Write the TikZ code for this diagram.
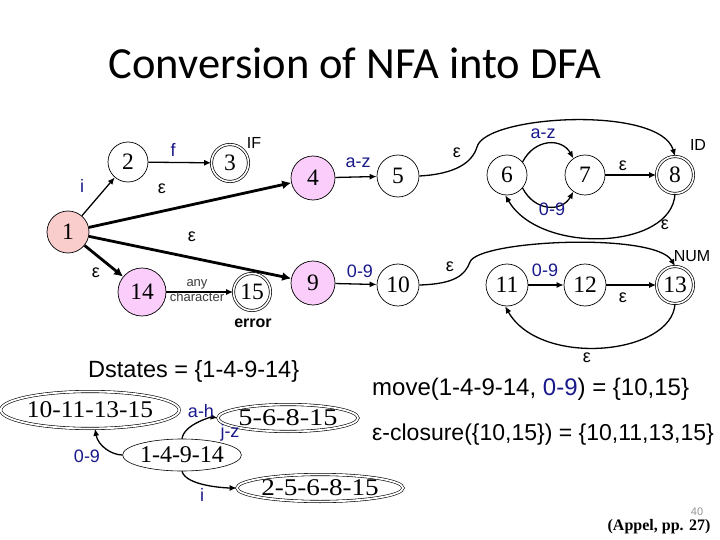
\documentclass[tikz,border=0pt]{standalone}
\usepackage{graphicx}
\usepackage{fontspec}
\setmainfont{Liberation Serif}
\newfontfamily\arialf{Liberation Sans}
\newfontfamily\calf{Carlito}
\usetikzlibrary{arrows.meta,shapes.geometric}
\definecolor{lblue}{RGB}{25,25,140}
\definecolor{startpink}{RGB}{250,205,205}
\definecolor{lav}{RGB}{250,205,250}
\begin{document}
\begin{tikzpicture}[x=1pt,y=-1pt,
  st/.style={circle,draw,line width=0.7pt,inner sep=0pt,minimum size=40pt,font=\fontsize{23.5}{23.5}\selectfont},
  acc/.style={st,minimum size=37pt,double,double distance=1.6pt},
  arr/.style={line width=1.3pt,-{Latex[length=7pt,width=6pt]}},
  tarr/.style={line width=2.8pt,-{Latex[length=9pt,width=9pt]}},
  lbl/.style={font=\arialf\fontsize{18}{18}\selectfont,text=lblue,inner sep=0pt},
  eps/.style={font=\arialf\fontsize{18}{18}\selectfont,inner sep=0pt},
  tag/.style={font=\arialf\fontsize{16}{16}\selectfont,inner sep=0pt},
  ell/.style={ellipse,draw,line width=0.6pt,inner sep=0pt,font=\fontsize{24}{24}\selectfont},
  dell/.style={ell,double,double distance=1.8pt},
  txt/.style={font=\arialf\fontsize{23}{23}\selectfont,inner sep=0pt}
]
\fill[white] (0,0) rectangle (720,540);
\useasboundingbox (0,0) rectangle (720,540);

% title
\node[font=\calf\fontsize{44.5}{44.5}\selectfont,anchor=base,inner sep=0pt] (title) at (355,79) {Conversion of NFA into DFA};

% NFA states
\node[st,fill=startpink,minimum size=42pt] (n1) at (68,232) {1};
\node[st] (n2) at (128,162) {2};
\node[acc] (n3) at (230,163) {3};
\node[st,fill=lav,minimum size=44pt] (n4) at (313,178) {4};
\node[st,fill=lav,minimum size=48pt] (n14) at (142,292) {14};
\node[acc] (n15) at (252,292) {15};
\node[st,fill=lav,minimum size=44pt] (n9) at (313,283) {9};
\node[st,minimum size=42pt] (n5) at (398,176) {5};
\node[st] (n6) at (507,175) {6};
\node[st] (n7) at (585,175) {7};
\node[acc] (n8) at (675,175) {8};
\node[st,minimum size=42pt] (n10) at (398,285) {10};
\node[st,minimum size=42pt] (n11) at (507,285) {11};
\node[st,minimum size=42pt] (n12) at (585,285) {12};
\node[acc] (n13) at (675,285) {13};

% NFA edges
\draw[arr] (n1) -- (n2);
\draw[arr] (n2) -- (n3);
\draw[tarr] (n1) -- (n4);
\draw[tarr] (n1) -- (n9);
\draw[tarr] (n1) -- (n14);
\draw[arr] (n14) -- (n15);
\draw[arr] (n4) -- (n5);
\draw[arr] (n9) -- (n10);
\coordinate (w1) at (477,147);
\draw[arr] (n5.east) .. controls (455,174) and (472,163) .. (w1) .. controls (485,115) and (660,105) .. (n8.north);
\draw[arr] (n6.40) .. controls (535,138) and (562,138) .. (n7.125);
\draw[arr] (n6.-40) .. controls (535,212) and (562,212) .. (n7.-125);
\draw[arr] (n7) -- (n8);
\draw[arr] (n8.south) .. controls (672,250) and (540,255) .. (n6.-95);
\coordinate (w2) at (470,262);
\draw[arr] (n10.east) .. controls (455,284) and (465,275) .. (w2) .. controls (478,240) and (655,232) .. (n13.north);
\draw[arr] (n11) -- (n12);
\draw[arr] (n12) -- (n13);
\draw[arr] (n13.south) .. controls (672,355) and (540,368) .. (n11.-95);

% NFA labels
\node[lbl] (li) at (82,186) {i};
\node[lbl] (lf) at (173,150) {f};
\node[lbl] (laz1) at (358,163) {a-z};
\node[lbl] (l091) at (360,271) {0-9};
\node[lbl] (laz2) at (543,134) {a-z};
\node[lbl] (l092) at (552,209) {0-9};
\node[lbl] (l093) at (545,270) {0-9};
\node[eps] (e1) at (162,189) {ε};
\node[eps] (e2) at (192,237) {ε};
\node[eps] (e3) at (96,273) {ε};
\node[eps] (e4) at (457,153) {ε};
\node[eps] (e5) at (623,166) {ε};
\node[eps] (e6) at (665,225) {ε};
\node[eps] (e7) at (450,267) {ε};
\node[eps] (e8) at (623,298) {ε};
\node[eps] (e9) at (587,358) {ε};
\node[font=\arialf\fontsize{13}{15}\selectfont,text={rgb,255:red,60;green,60;blue,60},align=center,inner sep=0pt] (lany) at (197,291) {any\\character};
\node[tag] (tIF) at (254,143) {IF};
\node[tag] (tID) at (698,145) {ID};
\node[tag] (tNUM) at (692,256) {NUM};
\node[font=\arialf\bfseries\fontsize{16}{16}\selectfont,inner sep=0pt] (terr) at (253,323) {error};

% DFA part
\node[txt,font=\arialf\fontsize{23.5}{23.5}\selectfont,anchor=base west] (dst) at (88,377) {Dstates = \{1-4-9-14\}};
\node[dell,minimum width=176pt,minimum height=37pt] (d10) at (90,410) {\scalebox{1.06}[1]{10-11-13-15}};
\node[ell,minimum width=102pt,minimum height=32pt] (d1) at (182,455) {1-4-9-14};
\node[dell,minimum width=97pt,minimum height=27pt] (d5) at (288,418) {\scalebox{1.18}[1]{5-6-8-15}};
\node[dell,minimum width=123pt,minimum height=27pt] (d2) at (320,488) {\scalebox{1.13}[1]{2-5-6-8-15}};
\draw[arr] (d1.west) .. controls (112,455) and (98,446) .. (d10.-75);
\draw[arr] (d1.north) .. controls (184,424) and (212,417) .. (d5.west);
\draw[arr] (d1.south) .. controls (186,486) and (226,488) .. (d2.west);
\node[lbl] (d09) at (87,456) {0-9};
\node[lbl] (dah) at (201,411) {a-h};
\node[lbl] (djz) at (230,433) {j-z};
\node[lbl] (di) at (202,495) {i};

% text
\node[txt,font=\arialf\fontsize{24}{24}\selectfont,anchor=base west] (mv) at (372,395) {move(1-4-9-14, \textcolor{lblue}{0-9}) = \{10,15\}};
\node[txt,anchor=base west] (cl) at (372,440) {ε-closure(\{10,15\}) = \{10,11,13,15\}};
\node[font=\arialf\fontsize{11}{11}\selectfont,text={rgb,255:red,150;green,150;blue,150},inner sep=0pt] (pg) at (697,512) {40};
\node[font=\bfseries\fontsize{16}{16}\selectfont,inner sep=0pt] (ref) at (659,527) {(Appel, pp. 27)};
\end{tikzpicture}
\end{document}
